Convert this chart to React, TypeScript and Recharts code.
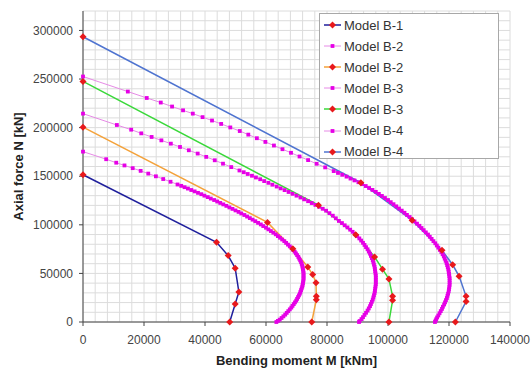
import React from "react";
import { LineChart, Line, XAxis, YAxis, ReferenceLine } from "recharts";

// bending moment M [kNm], axial force N [kN]
const xTicks = [0, 20000, 40000, 60000, 80000, 100000, 120000, 140000];
const yTicks = [0, 50000, 100000, 150000, 200000, 250000, 300000];

const b1: [number, number][] = [
  [0, 151500], [43800, 82000], [47600, 68300], [49900, 55300],
  [51100, 30900], [49900, 18600], [48100, 0],
];

const b2Fit: [number, number][] = [
  [0, 175300], [7600, 167500], [10900, 163900], [13600, 161100], [16300, 158300],
  [18900, 155500], [21400, 152700], [23900, 149900], [26300, 147100], [28700, 144300],
  [31000, 141500], [32200, 140100], [33300, 138700], [34400, 137300], [35500, 135800],
  [36600, 134400], [37700, 132900], [38800, 131500], [39800, 130000], [40900, 128500],
  [41900, 127000], [43000, 125500], [44000, 124000], [45000, 122500], [46000, 121000],
  [47000, 119500], [48000, 117900], [49000, 116400], [50000, 114800], [51000, 113300],
  [51900, 111700], [52900, 110100], [53800, 108500], [54700, 106900], [55600, 105300],
  [56500, 103700], [57400, 102000], [58300, 100400], [59100, 98700], [60000, 97000],
  [60800, 95300], [61600, 93600], [62400, 91900], [63200, 90200], [63900, 88400],
  [64600, 86700], [65300, 84900], [66000, 83200], [66600, 81400], [67200, 79600],
  [67800, 77800], [68400, 76000], [68900, 74200], [69400, 72400], [69800, 70600],
  [70200, 68800], [70600, 67000], [70900, 65200], [71200, 63400], [71500, 61600],
  [71700, 59800], [71900, 58000], [72000, 56200], [72100, 54400], [72200, 52600],
  [72300, 50800], [72300, 49000], [72300, 47200], [72300, 45400], [72300, 43600],
  [72200, 41800], [72100, 40000], [72000, 38200], [71900, 36400], [71700, 34600],
  [71500, 32800], [71300, 31000], [71100, 29200], [70800, 27400], [70500, 25600],
  [70200, 23800], [69900, 22000], [69500, 20200], [69100, 18400], [68700, 16600],
  [68300, 14800], [67800, 13000], [67300, 11200], [66800, 9400], [66300, 7600],
  [65700, 5800], [65100, 4100], [64500, 2400], [63900, 1100], [63400, 0],
];

const b2: [number, number][] = [
  [0, 200500], [60500, 102500], [68800, 75300], [73700, 56700], [75300, 48800],
  [76400, 40300], [76500, 26400], [76500, 23000], [75000, 0],
];

const b3Fit: [number, number][] = [
  [0, 214400], [11100, 202700], [15800, 197900], [19100, 194100], [22500, 190400],
  [25700, 186900], [28800, 183500], [31800, 180100], [34700, 176700], [37600, 173300],
  [40400, 169900], [43200, 166400], [45900, 162900], [48600, 159400], [51300, 155900],
  [52700, 154100], [54000, 152300], [55400, 150500], [56700, 148700], [58100, 146900],
  [59400, 145000], [60800, 143200], [62100, 141300], [63500, 139400], [64800, 137500],
  [66100, 135700], [67400, 133800], [68700, 131900], [70000, 130000], [71300, 128100],
  [72500, 126200], [73800, 124300], [75000, 122400], [76200, 120500], [77400, 118500],
  [78600, 116500], [79700, 114500], [80800, 112000], [81900, 109400], [82900, 106700],
  [83900, 104000], [84900, 101800], [85800, 99500], [86700, 97300], [87600, 95000],
  [88400, 92800], [89200, 90500], [89900, 88300], [90600, 86000], [91200, 83800],
  [91800, 81500], [92300, 79300], [92800, 77000], [93300, 74800], [93700, 72500],
  [94100, 70300], [94400, 68000], [94700, 65800], [95000, 63500], [95200, 61300],
  [95400, 59000], [95600, 56800], [95700, 54500], [95800, 52300], [95900, 50000],
  [96000, 47800], [96000, 45500], [96000, 43300], [96000, 41000], [96000, 38800],
  [95900, 36500], [95800, 34300], [95700, 32000], [95600, 29800], [95400, 27500],
  [95200, 25300], [95000, 23000], [94700, 20800], [94400, 18500], [94100, 16300],
  [93700, 14000], [93300, 11800], [92800, 9500], [92300, 7300], [91800, 5000],
  [91300, 3000], [90700, 1000], [90500, 0],
];

const b3: [number, number][] = [
  [0, 247500], [77200, 120200], [89400, 89800], [95600, 67000], [98200, 54400],
  [100300, 44300], [101500, 26400], [101500, 22300], [100300, 0],
];

const b4Fit: [number, number][] = [
  [0, 252600], [14700, 237100], [20900, 230500], [25500, 225800], [29200, 221700],
  [32800, 217800], [36000, 214400], [39200, 210800], [42300, 207300], [45300, 203800],
  [48300, 200200], [51400, 196500], [54200, 192800], [57000, 189100], [59800, 185300],
  [62600, 181600], [65400, 177800], [68200, 174100], [71000, 170300], [73800, 166600],
  [76600, 162800], [79400, 159100], [82200, 155300], [83600, 153400], [85000, 151500],
  [86400, 149600], [87700, 147600], [89000, 145700], [90300, 143800], [91500, 141900],
  [92700, 139900], [93800, 137900], [94900, 135900], [96000, 133900], [97000, 131800],
  [98000, 129700], [99000, 127600], [100000, 125500], [100900, 123300], [101800, 121200],
  [102700, 119000], [103600, 116800], [104500, 114600], [105400, 112400], [106200, 110200],
  [107100, 108000], [107900, 105700], [108700, 103500], [109500, 101200], [110300, 99000],
  [111000, 96700], [111700, 94500], [112400, 92200], [113100, 90000], [113700, 87700],
  [114300, 85500], [114900, 83200], [115500, 81000], [116000, 78700], [116500, 76500],
  [117000, 74200], [117500, 72000], [117900, 69700], [118300, 67500], [118600, 65200],
  [118900, 63000], [119200, 60700], [119400, 58500], [119600, 56200], [119800, 54000],
  [119900, 51700], [120000, 49500], [120100, 47200], [120200, 45000], [120200, 42700],
  [120200, 40500], [120200, 38200], [120100, 36000], [120000, 33700], [119900, 31500],
  [119700, 29200], [119500, 27000], [119300, 24700], [119000, 22500], [118700, 20200],
  [118400, 18000], [118000, 15700], [117700, 13500], [117300, 11200], [116900, 9000],
  [116500, 6700], [116100, 4700], [115800, 2800], [115600, 1300], [115400, 0],
];

const b4: [number, number][] = [
  [0, 293500], [91100, 143300], [107900, 104800], [117700, 73800], [121200, 58900],
  [123300, 47200], [125600, 26400], [125600, 21000], [122100, 0],
];

const gridX = Array.from({ length: 36 }, (_, i) => i * 4000);
const gridY = Array.from({ length: 33 }, (_, i) => i * 10000);

const toPts = (arr: [number, number][]) => arr.map(([m, n]) => ({ m, n }));

const RED = "#e8191c";
const MAG = "#e600e6";

const diamond = (p: any) => {
  const { cx, cy, index } = p;
  if (cx == null || cy == null) return <g key={index} />;
  return (
    <path
      key={index}
      d={`M${cx},${cy - 3.5}L${cx + 3.5},${cy}L${cx},${cy + 3.5}L${cx - 3.5},${cy}Z`}
      fill={RED}
    />
  );
};

const square = (p: any) => {
  const { cx, cy, index } = p;
  if (cx == null || cy == null) return <g key={index} />;
  return <rect key={index} x={cx - 1.9} y={cy - 1.9} width={3.8} height={3.8} fill={MAG} />;
};

const series = [
  { name: "Model B-1", data: b1, color: "#1f1f9c", fit: false },
  { name: "Model B-2", data: b2Fit, color: "#e68ae6", fit: true },
  { name: "Model B-2", data: b2, color: "#f4a23a", fit: false },
  { name: "Model B-3", data: b3Fit, color: "#e68ae6", fit: true },
  { name: "Model B-3", data: b3, color: "#3ad83a", fit: false },
  { name: "Model B-4", data: b4Fit, color: "#e68ae6", fit: true },
  { name: "Model B-4", data: b4, color: "#4f74d0", fit: false },
];

const LegendBox = () => (
  <div
    style={{
      position: "absolute",
      left: 319,
      top: 13,
      width: 180,
      height: 146,
      border: "1px solid #a8a8a8",
      background: "#fff",
      boxSizing: "border-box",
    }}
  >
    {series.map((s, i) => (
      <div
        key={i}
        style={{
          position: "absolute",
          left: 0,
          top: 0.5 + i * 21.1,
          height: 21,
          display: "flex",
          alignItems: "center",
        }}
      >
        <svg width={22} height={10} style={{ marginLeft: 4 }}>
          <line x1={0} y1={5} x2={17} y2={5} stroke={s.color} strokeWidth={s.fit ? 1 : 1.5} />
          {s.fit ? (
            <rect x={6.6} y={3.1} width={3.8} height={3.8} fill={MAG} />
          ) : (
            <path d="M8.5,1.5L12,5L8.5,8.5L5,5Z" fill={RED} />
          )}
        </svg>
        <span style={{ fontSize: 13, color: "#333", marginLeft: -2 }}>{s.name}</span>
      </div>
    ))}
  </div>
);

export default function App() {
  return (
    <div
      style={{
        position: "absolute",
        left: 0,
        top: 0,
        width: 531,
        height: 368,
        background: "#fff",
        fontFamily: "'Liberation Sans', Arial, sans-serif",
      }}
    >
      <LineChart width={531} height={368} margin={{ top: 11, right: 21, left: 0, bottom: 0 }}>
        {gridX.map((v) => (
          <ReferenceLine key={"x" + v} x={v} stroke="#dcdcdc" strokeWidth={1} />
        ))}
        {gridY.map((v) => (
          <ReferenceLine key={"y" + v} y={v} stroke="#dcdcdc" strokeWidth={1} />
        ))}
        <XAxis
          dataKey="m"
          type="number"
          domain={[0, 140000]}
          ticks={xTicks}
          height={46}
          tickSize={4}
          tickMargin={9}
          stroke="#444"
          tick={{ fill: "#444", fontSize: 12 }}
          label={{
            value: "Bending moment M [kNm]",
            position: "insideBottom",
            offset: 3,
            style: { fontWeight: "bold", fontSize: 13, fill: "#222" },
          }}
        />
        <YAxis
          dataKey="n"
          type="number"
          domain={[0, 320000]}
          ticks={yTicks}
          width={83}
          tickSize={4}
          tickMargin={6}
          stroke="#444"
          tick={{ fill: "#444", fontSize: 12 }}
          label={{
            value: "Axial force N [kN]",
            angle: -90,
            position: "insideLeft",
            offset: 18,
            style: { fontWeight: "bold", fontSize: 13, fill: "#222", textAnchor: "middle" },
          }}
        />
        {series.map((s, i) => (
          <Line
            key={i}
            data={toPts(s.data)}
            dataKey="n"
            type="linear"
            stroke={s.color}
            strokeWidth={s.fit ? 1 : 1.5}
            dot={s.fit ? square : diamond}
            activeDot={false}
            isAnimationActive={false}
            name={s.name}
          />
        ))}
      </LineChart>
      <LegendBox />
    </div>
  );
}
